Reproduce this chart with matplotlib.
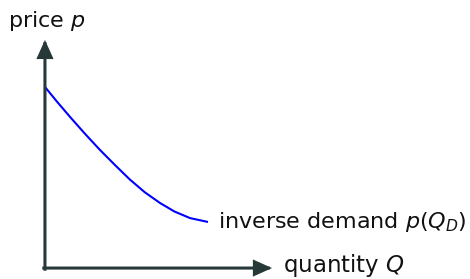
import matplotlib
matplotlib.use("Agg")
import matplotlib.pyplot as plt

plt.rcParams['font.family'] = ['DejaVu Sans']
plt.rcParams['mathtext.fontset'] = 'dejavusans'

# inverse demand curve
quantity = [0.0, 0.5, 1.1, 1.75, 2.42, 3.1, 3.74, 4.4, 5.07, 5.7, 6.39, 7.18]
price = [7.94, 7.33, 6.63, 5.9, 5.18, 4.5, 3.88, 3.32, 2.85, 2.48, 2.19, 2.02]

axis_end = 10.0
axis_color = '#263838'
curve_color = '#0000ff'

fig = plt.figure(figsize=(4.7, 2.79), dpi=100)
ax = fig.add_axes([0, 0, 1, 1])
ax.set_xlim(-1.98, 18.72)
ax.set_ylim(-0.48, 11.75)
ax.axis('off')

arrow = dict(arrowstyle='-|>,head_length=1.0,head_width=0.45', color=axis_color,
             lw=2.2, shrinkA=0, shrinkB=0, joinstyle='miter', capstyle='projecting')
ax.annotate('', xy=(axis_end, 0), xytext=(-0.05, 0), arrowprops=arrow)
ax.annotate('', xy=(0, axis_end), xytext=(0, -0.05), arrowprops=arrow)

ax.plot(quantity, price, color=curve_color, lw=1.5, solid_capstyle='butt',
        solid_joinstyle='round')

ax.text(quantity[-1] + 0.42, price[-1], r'inverse demand $p(Q_D)$',
        fontsize=16, va='center', ha='left', color='#111111')
ax.text(axis_end + 0.48, 0.1, r'quantity $Q$', fontsize=16.5, va='center', ha='left',
        color='#111111')
ax.text(-1.64, 10.85, r'price $p$', fontsize=16, va='center', ha='left', color='#111111')

fig.savefig('out.png', dpi=100)
